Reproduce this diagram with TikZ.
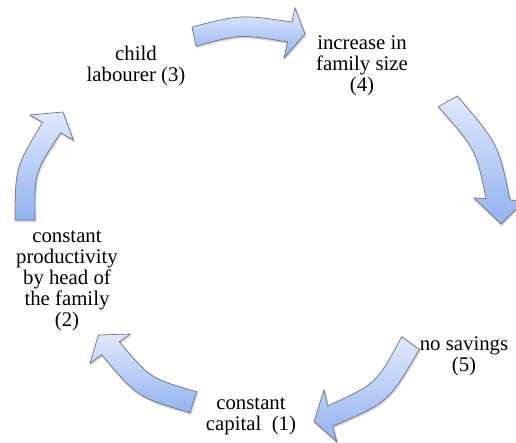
\documentclass[tikz,border=0pt]{standalone}
\usepackage{fontspec}
\setmainfont{Liberation Serif}
\usetikzlibrary{shadows.blur}
\definecolor{arrtop}{RGB}{224,233,252}
\definecolor{arrbot}{RGB}{146,178,240}
\definecolor{arredge}{RGB}{112,116,128}
\tikzset{
  blockarrow/.style={draw=arredge, line width=0.7pt, line join=miter,
    top color=arrtop, bottom color=arrbot,
    blur shadow={shadow xshift=0.8pt, shadow yshift=-1.4pt, shadow blur radius=1.6pt, shadow opacity=28}},
  label/.style={align=center, inner sep=0pt, font=\fontsize{20.8}{21}\selectfont, text=black}
}
\begin{document}
\begin{tikzpicture}[x=1pt,y=-1pt]
\useasboundingbox (0,0) rectangle (516,442);
\clip (0,0) rectangle (516,442);
% arrow 3 -> 4 (top)
\path[blockarrow] (192,27) .. controls (240.3,14.5) .. (291.9,22) -- (295,8) -- (305,34) -- (284,58)
  -- (287.5,42) .. controls (240.5,34) .. (196,46) -- cycle;
% arrow 4 -> 5 (right)
\path[blockarrow] (457.3,96) .. controls (498.5,144.3) .. (510,200) -- (524,201) -- (501,224) -- (474,198)
  -- (486,198.7) .. controls (476,149.4) .. (438.3,106.7) -- cycle;
% arrow 5 -> 1 (bottom right)
\path[blockarrow] (419.3,349.3) .. controls (388.7,402) .. (332.8,426.2) -- (336.7,441.7) -- (314,421.5) -- (324,390)
  -- (327.8,405.8) .. controls (376.4,383.7) .. (401.7,336.7) -- cycle;
% arrow 1 -> 2 (bottom left)
\path[blockarrow] (190,412.7) .. controls (137.1,397.1) .. (101.7,354.7) -- (90,363.3) -- (98.3,335) -- (130,334)
  -- (119.3,341.8) .. controls (150.4,378.5) .. (196.7,391.7) -- cycle;
% arrow 2 -> 3 (left)
\path[blockarrow] (15,220) .. controls (15.3,167.3) .. (42.6,122.3) -- (30,115) -- (63,112) -- (73.3,140)
  -- (60.7,132.8) .. controls (34.4,172.5) .. (35,220) -- cycle;
% labels
\node[label] (n1) at (251,416.7) {constant\\capital\ \ (1)};
\node[label] (n2) at (67,281.2) {constant\\productivity\\by head of\\the family\\(2)};
\node[label] (n3) at (136,66.4) {child\\labourer (3)};
\node[label] (n4) at (362,66) {increase in\\family size\\(4)};
\node[label] (n5) at (464,356) {no savings\\(5)};
\end{tikzpicture}
\end{document}
